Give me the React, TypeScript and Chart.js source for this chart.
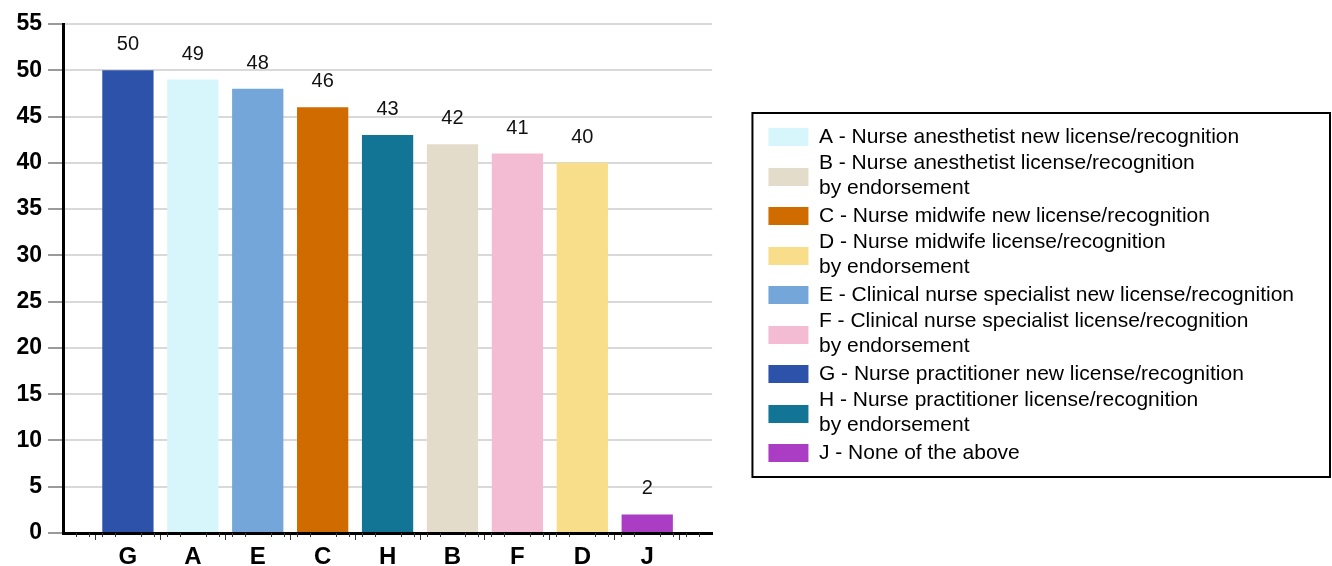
import React, { useEffect, useRef } from "react";
import { Chart, registerables } from "chart.js";

Chart.register(...registerables);

// Bars in display order
const categories = ["G", "A", "E", "C", "H", "B", "F", "D", "J"];
const values = [50, 49, 48, 46, 43, 42, 41, 40, 2];

// Legend entries (alphabetical)
const legendCodes = ["A", "B", "C", "D", "E", "F", "G", "H", "J"];
const legendTexts: (string | string[])[] = [
  "A - Nurse anesthetist new license/recognition",
  ["B - Nurse anesthetist license/recognition", "by endorsement"],
  "C - Nurse midwife new license/recognition",
  ["D - Nurse midwife license/recognition", "by endorsement"],
  "E - Clinical nurse specialist new license/recognition",
  ["F - Clinical nurse specialist license/recognition", "by endorsement"],
  "G - Nurse practitioner new license/recognition",
  ["H - Nurse practitioner license/recognition", "by endorsement"],
  "J - None of the above",
];
const legendColors = [
  "#d6f6fb",
  "#e3dccb",
  "#d06b00",
  "#f8de8a",
  "#74a6da",
  "#f3bcd2",
  "#2c53a9",
  "#137596",
  "#ab3dc4",
];

const yTickMin = 0;
const yTickMax = 55;
const yTickStep = 5;

const FONT = "'Liberation Sans', Arial, sans-serif";

const colorFor = (code: string) => legendColors[legendCodes.indexOf(code)];

const valueLabelsPlugin = {
  id: "valueLabels",
  afterDatasetsDraw(chart: any) {
    const ctx = chart.ctx;
    const meta = chart.getDatasetMeta(0);
    const data = chart.data.datasets[0].data;
    ctx.save();
    ctx.font = `20px ${FONT}`;
    ctx.fillStyle = "#111";
    ctx.textAlign = "center";
    ctx.textBaseline = "alphabetic";
    meta.data.forEach((el: any, i: number) => {
      const v = data[i];
      if (v == null || !isFinite(el.x) || !isFinite(el.y)) return;
      ctx.fillText(String(v), el.x, el.y - 20);
    });
    ctx.restore();
  },
};

const minorTicksPlugin = {
  id: "minorTicks",
  afterDraw(chart: any) {
    const xs = chart.scales.x;
    const ctx = chart.ctx;
    const n = (chart.data.labels.length - 1) * 5;
    ctx.save();
    ctx.strokeStyle = "#333";
    ctx.lineWidth = 1;
    ctx.beginPath();
    for (let k = 0; k <= n; k++) {
      if (k % 5 === 0) continue;
      const px = Math.round(xs.getPixelForDecimal(k / n)) + 0.5;
      ctx.moveTo(px, xs.top);
      ctx.lineTo(px, xs.top + 4);
    }
    ctx.stroke();
    ctx.restore();
  },
};

const legendFramePlugin = {
  id: "legendFrame",
  afterDraw(chart: any) {
    const lg = chart.legend;
    if (!lg || !lg.legendHitBoxes || !lg.legendHitBoxes.length) return;
    const ctx = chart.ctx;
    const boxes = lg.legendHitBoxes;
    ctx.save();
    boxes.forEach((hb: any, i: number) => {
      ctx.fillStyle = legendColors[i];
      const cy = hb.top + hb.height / 2;
      ctx.fillRect(hb.left, Math.round(cy - 9), 40, 18);
    });
    const first = boxes[0];
    const last = boxes[boxes.length - 1];
    const left = first.left - 16;
    const top = first.top - 12;
    const bottom = last.top + last.height + 12;
    const right = chart.width - 2;
    ctx.strokeStyle = "#000";
    ctx.lineWidth = 2;
    ctx.strokeRect(left, top, right - left, bottom - top);
    ctx.restore();
  },
};

export default function App() {
  const canvasRef = useRef<HTMLCanvasElement | null>(null);

  useEffect(() => {
    if (!canvasRef.current) return;
    const labels = ["", ...categories, ""];
    const data = [null, ...values, null];
    const colors = ["transparent", ...categories.map(colorFor), "transparent"];

    const chart = new Chart(canvasRef.current, {
      type: "bar",
      data: {
        labels,
        datasets: [
          {
            data,
            backgroundColor: colors,
            borderWidth: 0,
            categoryPercentage: 1,
            barPercentage: 0.79,
          },
        ],
      },
      options: {
        animation: false,
        responsive: true,
        maintainAspectRatio: false,
        layout: { padding: { top: 24, right: 28, bottom: 0, left: 0 } },
        plugins: {
          tooltip: { enabled: false },
          legend: {
            display: true,
            position: "right",
            align: "center",
            maxWidth: 800,
            labels: {
              boxWidth: 40,
              boxHeight: 24,
              padding: 2.3,
              color: "#000",
              font: { family: FONT, size: 21, lineHeight: 1.2 },
              generateLabels: () =>
                legendCodes.map((c, i) => ({
                  text: legendTexts[i] as any,
                  fillStyle: "rgba(0,0,0,0)",
                  strokeStyle: "rgba(0,0,0,0)",
                  lineWidth: 0,
                  hidden: false,
                  index: i,
                  datasetIndex: 0,
                  fontColor: "#000",
                })),
            },
          },
        },
        scales: {
          x: {
            type: "category",
            offset: false,
            afterFit: (s: any) => {
              s.height = 33;
            },
            grid: {
              display: true,
              drawOnChartArea: false,
              drawTicks: true,
              tickLength: 7,
              tickColor: "#333",
              lineWidth: 1,
            },
            border: { display: true, color: "#000", width: 3 },
            ticks: {
              autoSkip: false,
              maxRotation: 0,
              padding: 8,
              color: "#000",
              font: { family: FONT, size: 24, weight: "bold", lineHeight: 0.75 },
            },
          },
          y: {
            type: "linear",
            min: yTickMin,
            max: yTickMax,
            afterFit: (s: any) => {
              s.width = 63;
            },
            grid: {
              color: "#d9d9d9",
              lineWidth: 2,
              tickLength: 15,
              tickColor: "#9a9a9a",
              tickWidth: 2,
            },
            border: { display: true, color: "#000", width: 3 },
            ticks: {
              stepSize: yTickStep,
              padding: 6,
              color: "#000",
              font: { family: FONT, size: 23, weight: "bold" },
            },
          },
          gap: {
            type: "linear",
            position: "right",
            display: true,
            afterFit: (s: any) => {
              s.width = 54;
            },
            grid: { display: false },
            border: { display: false },
            ticks: { display: false },
          },
        },
      },
      plugins: [valueLabelsPlugin, minorTicksPlugin, legendFramePlugin],
    } as any);

    return () => chart.destroy();
  }, []);

  return (
    <div
      style={{
        position: "fixed",
        left: 0,
        top: 0,
        width: "1332px",
        height: "566px",
        background: "#fff",
      }}
    >
      <canvas ref={canvasRef} />
    </div>
  );
}
